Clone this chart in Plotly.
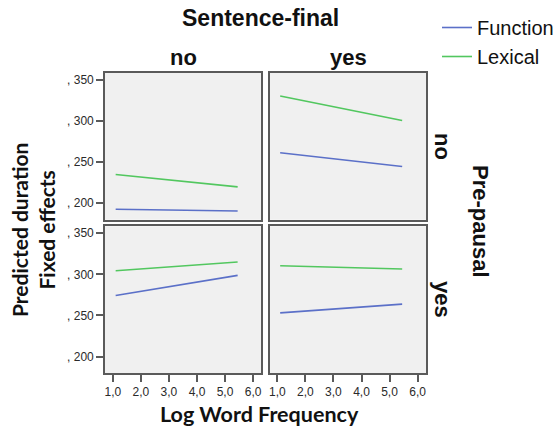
import plotly.graph_objects as go
from plotly.subplots import make_subplots

# Data
freq = [1.1, 5.45]
series_names = ["Function", "Lexical"]
colors = {"Function": "#5B70C8", "Lexical": "#52C75F"}
# panels: (pre-pausal row, sentence-final col)
function_vals = {
    ("no", "no"): [192.7, 190.6],
    ("no", "yes"): [261.4, 244.7],
    ("yes", "no"): [274.4, 298.8],
    ("yes", "yes"): [253.2, 263.8],
}
lexical_vals = {
    ("no", "no"): [235.0, 220.0],
    ("no", "yes"): [330.5, 300.8],
    ("yes", "no"): [304.4, 315.0],
    ("yes", "yes"): [310.5, 306.5],
}
y_tickvals = [200, 250, 300, 350]
y_ticktext = [", 200", ", 250", ", 300", ", 350"]
x_tickvals = [1, 2, 3, 4, 5, 6]
x_ticktext = ["1,0", "2,0", "3,0", "4,0", "5,0", "6,0"]
row_levels = ["no", "yes"]
col_levels = ["no", "yes"]

W, H = 556, 430
ml, mr, mt, mb = 105, 130, 73, 57
PW, PH = W - ml - mr, H - mt - mb


def px(x):
    return (x - ml) / PW


def py(y):
    return (H - mb - y) / PH


fig = make_subplots(rows=2, cols=2, horizontal_spacing=0.025, vertical_spacing=0.022)

first = True
for r, rl in enumerate(row_levels, start=1):
    for c, cl in enumerate(col_levels, start=1):
        for name, vals in (("Function", function_vals), ("Lexical", lexical_vals)):
            fig.add_trace(go.Scatter(
                x=freq, y=vals[(rl, cl)], mode="lines", name=name,
                line=dict(color=colors[name], width=1.6),
                showlegend=first, legendgroup=name, hoverinfo="skip"),
                row=r, col=c)
        first = False

axis_common = dict(showline=True, mirror=True, linecolor="#5a5a5a", linewidth=1.6,
                   showgrid=False, zeroline=False, automargin=False)
tick_font = dict(family="Liberation Sans, Arial", size=12, color="#2a2a2a")
for r in (1, 2):
    for c in (1, 2):
        fig.update_xaxes(range=[0.72, 6.3], tickvals=x_tickvals, ticktext=x_ticktext,
                         ticks="outside" if r == 2 else "", ticklen=7, tickwidth=1.6,
                         tickcolor="#5a5a5a", showticklabels=(r == 2),
                         tickfont=tick_font, row=r, col=c, **axis_common)
        fig.update_yaxes(range=[180, 358.5], tickvals=y_tickvals, ticktext=y_ticktext,
                         ticks="outside" if c == 1 else "", ticklen=7, tickwidth=1.6,
                         tickcolor="#5a5a5a", showticklabels=(c == 1),
                         tickfont=tick_font, row=r, col=c, **axis_common)

bold = "Liberation Sans, Arial"
title_font = "Lato, Open Sans, sans-serif"
strip = dict(family=bold, size=22, color="#111111")
ann = []


def add(text, x, y, angle=0, font=strip):
    ann.append(dict(text=text, x=px(x), y=py(y), xref="paper", yref="paper",
                    xanchor="center", yanchor="middle", showarrow=False,
                    textangle=angle, font=font))


add("<b>Sentence-final</b>", 260, 18, font=dict(family=bold, size=23, color="#111111"))
add("<b>no</b>", 183, 58)
add("<b>yes</b>", 348, 58)
add("<b>no</b>", 443, 147, 90)
add("<b>yes</b>", 443, 300, 90)
add("<b>Pre-pausal</b>", 481, 222, 90)
add("<b>Log Word Frequency</b>", 259, 414,
    font=dict(family=title_font, size=21.5, color="#111111"))
add("<b>Predicted duration<br>Fixed effects</b>", 33, 230, -90,
    font=dict(family=title_font, size=21, color="#111111"))

fig.update_layout(
    width=W, height=H, margin=dict(l=ml, r=mr, t=mt, b=mb, autoexpand=False),
    paper_bgcolor="white", plot_bgcolor="#F0F0F0",
    annotations=ann,
    legend=dict(x=px(437), y=py(8), yanchor="top", xanchor="left", yref="paper",
                font=dict(family=bold, size=20, color="#111111"),
                itemwidth=30, tracegroupgap=0, bgcolor="rgba(0,0,0,0)"),
    showlegend=True,
)
fig.write_html("out.html", post_script="document.body.style.margin='0px';",
               config={"displayModeBar": False})
